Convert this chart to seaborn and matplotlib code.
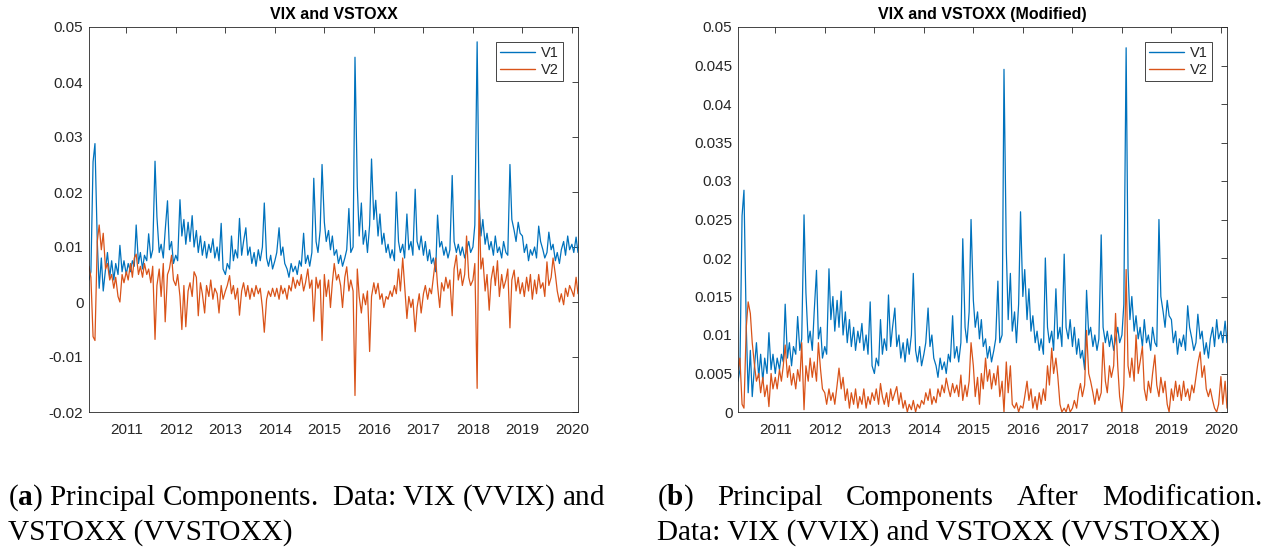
import numpy as np
import pandas as pd
import matplotlib
matplotlib.use("Agg")
import matplotlib.pyplot as plt
import seaborn as sns

# ---------------- data (semi-monthly readings, Apr 2010 - Feb 2020) ----------------
dates = pd.date_range("2010-04-01", "2020-02-15", freq="SMS")

v1 = [
    # 2010 (Apr-Dec)
    0.0040, 0.0055, 0.0255, 0.0288, 0.0110, 0.0025, 0.0080, 0.0020, 0.0060, 0.0090, 0.0045, 0.0075,
    0.0040, 0.0070, 0.0050, 0.0103, 0.0055, 0.0075,
    # 2011
    0.0050, 0.0070, 0.0055, 0.0075, 0.0065, 0.0140, 0.0070, 0.0090, 0.0060, 0.0085, 0.0075, 0.0124,
    0.0080, 0.0095, 0.0256, 0.0155, 0.0090, 0.0105, 0.0080, 0.0130, 0.0184, 0.0095, 0.0110, 0.0070,
    # 2012
    0.0085, 0.0075, 0.0186, 0.0120, 0.0150, 0.0105, 0.0145, 0.0110, 0.0157, 0.0100, 0.0130, 0.0090,
    0.0120, 0.0085, 0.0110, 0.0080, 0.0105, 0.0090, 0.0115, 0.0080, 0.0100, 0.0075, 0.0143, 0.0060,
    # 2013
    0.0050, 0.0070, 0.0060, 0.0120, 0.0075, 0.0095, 0.0080, 0.0152, 0.0085, 0.0110, 0.0135, 0.0085,
    0.0100, 0.0070, 0.0090, 0.0065, 0.0095, 0.0075, 0.0100, 0.0180, 0.0080, 0.0065, 0.0085, 0.0060,
    # 2014
    0.0075, 0.0090, 0.0135, 0.0085, 0.0100, 0.0070, 0.0060, 0.0045, 0.0070, 0.0055, 0.0065, 0.0050,
    0.0075, 0.0065, 0.0125, 0.0070, 0.0085, 0.0065, 0.0090, 0.0225, 0.0110, 0.0090, 0.0130, 0.0250,
    # 2015
    0.0145, 0.0110, 0.0130, 0.0095, 0.0120, 0.0085, 0.0095, 0.0070, 0.0085, 0.0065, 0.0080, 0.0095,
    0.0170, 0.0090, 0.0100, 0.0445, 0.0210, 0.0120, 0.0180, 0.0105, 0.0130, 0.0090, 0.0140, 0.0260,
    # 2016
    0.0150, 0.0185, 0.0120, 0.0160, 0.0105, 0.0125, 0.0090, 0.0105, 0.0080, 0.0095, 0.0075, 0.0200,
    0.0110, 0.0090, 0.0105, 0.0080, 0.0160, 0.0095, 0.0110, 0.0085, 0.0205, 0.0110, 0.0095, 0.0120,
    # 2017
    0.0085, 0.0110, 0.0075, 0.0095, 0.0070, 0.0080, 0.0055, 0.0158, 0.0100, 0.0110, 0.0085, 0.0100,
    0.0080, 0.0095, 0.0230, 0.0110, 0.0090, 0.0105, 0.0085, 0.0100, 0.0080, 0.0095, 0.0110, 0.0090,
    # 2018
    0.0100, 0.0140, 0.0473, 0.0185, 0.0120, 0.0150, 0.0105, 0.0125, 0.0095, 0.0110, 0.0085, 0.0120,
    0.0090, 0.0100, 0.0080, 0.0110, 0.0090, 0.0085, 0.0250, 0.0150, 0.0130, 0.0110, 0.0145, 0.0125,
    # 2019
    0.0120, 0.0090, 0.0105, 0.0075, 0.0095, 0.0085, 0.0100, 0.0080, 0.0138, 0.0110, 0.0095, 0.0080,
    0.0090, 0.0127, 0.0095, 0.0105, 0.0075, 0.0090, 0.0070, 0.0095, 0.0110, 0.0085, 0.0120, 0.0095,
    # 2020 (Jan-Feb)
    0.0105, 0.0090, 0.0118, 0.0090,
]

v2 = [
    # 2010
    0.0065, 0.0045, -0.0063, -0.0070, 0.0110, 0.0140, 0.0095, 0.0125, 0.0060, 0.0070, 0.0040, 0.0050,
    0.0025, 0.0045, 0.0010, 0.0000, 0.0050, 0.0035,
    # 2011
    0.0055, 0.0040, 0.0070, 0.0045, 0.0080, 0.0087, 0.0050, 0.0065, 0.0045, 0.0070, 0.0050, 0.0060,
    0.0035, 0.0065, -0.0068, 0.0030, 0.0060, 0.0010, 0.0070, -0.0036, 0.0050, 0.0060, 0.0085, 0.0040,
    # 2012
    0.0030, 0.0050, 0.0010, -0.0050, 0.0030, -0.0045, 0.0020, 0.0035, 0.0010, 0.0055, 0.0045, -0.0025,
    0.0035, 0.0015, -0.0020, 0.0030, 0.0010, 0.0040, 0.0005, 0.0025, 0.0015, -0.0020, 0.0030, 0.0005,
    # 2013
    0.0020, 0.0030, 0.0048, 0.0015, 0.0030, 0.0005, 0.0025, -0.0024, 0.0020, 0.0035, 0.0010, 0.0030,
    0.0005, 0.0025, 0.0010, 0.0030, 0.0015, 0.0025, -0.0010, -0.0055, 0.0005, 0.0020, 0.0010, 0.0025,
    # 2014
    0.0010, 0.0025, 0.0005, 0.0030, 0.0015, 0.0025, 0.0005, 0.0030, 0.0020, 0.0045, 0.0025, 0.0040,
    0.0030, 0.0050, 0.0020, 0.0035, 0.0060, 0.0025, 0.0040, -0.0035, 0.0045, 0.0025, 0.0040, -0.0070,
    # 2015
    0.0050, 0.0010, 0.0040, -0.0010, 0.0035, 0.0070, 0.0040, 0.0050, 0.0030, -0.0010, 0.0045, 0.0064,
    0.0020, 0.0040, 0.0020, -0.0170, 0.0060, 0.0010, -0.0020, 0.0015, -0.0005, 0.0020, -0.0090, 0.0010,
    # 2016
    0.0035, 0.0015, 0.0034, 0.0005, 0.0015, -0.0010, 0.0010, 0.0005, 0.0020, 0.0010, 0.0030, 0.0015,
    0.0060, 0.0020, 0.0080, 0.0030, -0.0030, 0.0010, -0.0010, 0.0005, -0.0054, -0.0010, 0.0015, -0.0020,
    # 2017
    0.0015, 0.0030, 0.0005, 0.0025, 0.0015, 0.0045, 0.0080, 0.0030, -0.0010, 0.0035, 0.0020, 0.0045,
    0.0025, 0.0040, -0.0025, 0.0060, 0.0085, 0.0040, 0.0060, 0.0030, 0.0050, 0.0120, 0.0045, 0.0030,
    # 2018
    0.0040, 0.0070, -0.0157, 0.0185, 0.0060, 0.0080, 0.0020, 0.0050, -0.0015, 0.0040, 0.0065, 0.0030,
    0.0075, 0.0010, 0.0050, 0.0025, 0.0040, 0.0060, -0.0047, 0.0040, 0.0058, 0.0020, 0.0045, 0.0015,
    # 2019
    0.0035, 0.0010, 0.0045, 0.0020, 0.0050, 0.0005, 0.0040, 0.0015, 0.0050, 0.0025, 0.0035, 0.0010,
    0.0073, 0.0030, 0.0045, 0.0080, 0.0050, 0.0020, 0.0000, 0.0015, -0.0005, 0.0025, 0.0010, 0.0030,
    # 2020
    0.0020, 0.0010, 0.0045, 0.0015,
]

v1_mod = list(v1)  # read as identical in the modified panel

v2_mod = [
    # 2010
    0.0055, 0.0070, 0.0010, 0.0005, 0.0110, 0.0143, 0.0128, 0.0090, 0.0060, 0.0040, 0.0050, 0.0025,
    0.0045, 0.0020, 0.0035, 0.0007, 0.0050, 0.0030,
    # 2011
    0.0045, 0.0030, 0.0055, 0.0040, 0.0060, 0.0087, 0.0045, 0.0060, 0.0035, 0.0050, 0.0030, 0.0055,
    0.0040, 0.0090, 0.0003, 0.0060, 0.0040, 0.0070, 0.0045, 0.0065, 0.0040, 0.0090, 0.0055, 0.0030,
    # 2012
    0.0025, 0.0010, 0.0030, 0.0015, 0.0025, 0.0010, 0.0035, 0.0057, 0.0030, 0.0045, 0.0015, 0.0030,
    0.0005, 0.0025, 0.0010, 0.0030, 0.0005, 0.0020, 0.0010, 0.0030, 0.0005, 0.0020, 0.0010, 0.0025,
    # 2013
    0.0015, 0.0030, 0.0010, 0.0037, 0.0020, 0.0010, 0.0025, 0.0007, 0.0030, 0.0015, 0.0025, 0.0033,
    0.0010, 0.0025, 0.0005, 0.0015, 0.0000, 0.0010, 0.0003, 0.0015, 0.0000, 0.0010, 0.0005, 0.0015,
    # 2014
    0.0010, 0.0025, 0.0015, 0.0030, 0.0010, 0.0020, 0.0012, 0.0030, 0.0020, 0.0035, 0.0025, 0.0044,
    0.0030, 0.0020, 0.0037, 0.0025, 0.0035, 0.0020, 0.0048, 0.0015, 0.0035, 0.0020, 0.0040, 0.0090,
    # 2015
    0.0060, 0.0020, 0.0045, 0.0010, 0.0050, 0.0030, 0.0070, 0.0040, 0.0055, 0.0030, 0.0050, 0.0035,
    0.0060, 0.0020, 0.0040, 0.0000, 0.0065, 0.0025, 0.0060, 0.0010, 0.0005, 0.0012, 0.0000, 0.0008,
    # 2016
    0.0005, 0.0020, 0.0040, 0.0015, 0.0030, 0.0005, 0.0020, 0.0003, 0.0025, 0.0010, 0.0030, 0.0015,
    0.0060, 0.0035, 0.0083, 0.0050, 0.0070, 0.0046, 0.0010, 0.0000, 0.0005, 0.0000, 0.0010, 0.0000,
    # 2017
    0.0005, 0.0015, 0.0005, 0.0025, 0.0037, 0.0020, 0.0035, 0.0106, 0.0050, 0.0040, 0.0025, 0.0010,
    0.0030, 0.0015, 0.0025, 0.0090, 0.0040, 0.0025, 0.0060, 0.0045, 0.0060, 0.0128, 0.0060, 0.0020,
    # 2018
    0.0000, 0.0035, 0.0185, 0.0060, 0.0045, 0.0070, 0.0040, 0.0100, 0.0050, 0.0065, 0.0085, 0.0030,
    0.0015, 0.0040, 0.0025, 0.0050, 0.0074, 0.0035, 0.0020, 0.0045, 0.0025, 0.0040, 0.0010, 0.0000,
    # 2019
    0.0030, 0.0015, 0.0040, 0.0020, 0.0035, 0.0015, 0.0040, 0.0020, 0.0030, 0.0015, 0.0035, 0.0025,
    0.0045, 0.0063, 0.0078, 0.0045, 0.0060, 0.0030, 0.0020, 0.0030, 0.0015, 0.0005, 0.0000, 0.0010,
    # 2020
    0.0046, 0.0010, 0.0040, 0.0005,
]

series_names = ["V1", "V2"]
titles = ["VIX and VSTOXX", "VIX and VSTOXX (Modified)"]
year_ticks = [2011, 2012, 2013, 2014, 2015, 2016, 2017, 2018, 2019, 2020]
yticks_a = [-0.02, -0.01, 0, 0.01, 0.02, 0.03, 0.04, 0.05]
ylabels_a = ["-0.02", "-0.01", "0", "0.01", "0.02", "0.03", "0.04", "0.05"]
yticks_b = [0, 0.005, 0.01, 0.015, 0.02, 0.025, 0.03, 0.035, 0.04, 0.045, 0.05]
ylabels_b = ["0", "0.005", "0.01", "0.015", "0.02", "0.025", "0.03", "0.035", "0.04", "0.045", "0.05"]
caption_a = ["($\\mathbf{a}$) Principal Components.  Data: VIX (VVIX) and", "VSTOXX (VVSTOXX)"]
caption_b_words = ["($\\mathbf{b}$)", "Principal", "Components", "After", "Modification."]
caption_b_line2 = "Data: VIX (VVIX) and VSTOXX (VVSTOXX)"

# ---------------- style ----------------
sns.set_theme(style="white")
plt.rcParams["font.family"] = ["Liberation Sans", "DejaVu Sans"]
plt.rcParams["mathtext.fontset"] = "custom"
plt.rcParams["mathtext.rm"] = "Liberation Serif"
plt.rcParams["mathtext.bf"] = "Liberation Serif:bold"
plt.rcParams["mathtext.it"] = "Liberation Serif:italic"

palette = {"V1": "#0072BD", "V2": "#D95319"}
dark = "#262626"

W, H = 1270, 550
fig = plt.figure(figsize=(W / 100, H / 100), dpi=100)
ax_a = fig.add_axes([89 / W, 1 - 412 / H, 489 / W, 385 / H])
ax_b = fig.add_axes([738 / W, 1 - 412 / H, 489 / W, 385 / H])


def long_frame(a, b):
    n = len(dates)
    assert len(a) == n and len(b) == n, (len(a), len(b), n)
    return pd.DataFrame({
        "date": np.concatenate([dates.values, dates.values]),
        "value": list(a) + list(b),
        "series": [series_names[0]] * n + [series_names[1]] * n,
    })


panels = [
    (ax_a, long_frame(v1, v2), yticks_a, ylabels_a, titles[0]),
    (ax_b, long_frame(v1_mod, v2_mod), yticks_b, ylabels_b, titles[1]),
]

for ax, df, yt, yl, title in panels:
    sns.lineplot(data=df, x="date", y="value", hue="series", hue_order=series_names,
                 palette=palette, estimator=None, linewidth=0.9, ax=ax, legend=True)
    ax.set_xlim(dates[0], dates[-1])
    ax.set_ylim(yt[0], yt[-1])
    ax.set_xticks(pd.to_datetime([f"{y}-01-01" for y in year_ticks]))
    ax.set_xticklabels([str(y) for y in year_ticks])
    ax.set_yticks(yt)
    ax.set_yticklabels(yl)
    ax.set_xlabel("")
    ax.set_ylabel("")
    ax.tick_params(axis="both", direction="in", length=4, width=0.6, top=True, right=True,
                   color=dark, labelcolor=dark, labelsize=11)
    ax.tick_params(axis="x", pad=8)
    ax.tick_params(axis="y", pad=4)
    for s in ax.spines.values():
        s.set_visible(True)
        s.set_color(dark)
        s.set_linewidth(0.6)
    ax.set_title(title, fontsize=11.5, fontweight="bold", color="black", pad=6)
    handles, labels = ax.get_legend_handles_labels()
    leg = ax.legend(handles, labels, loc="upper right", fontsize=10.5, frameon=True,
                    fancybox=False, framealpha=1, edgecolor=dark, borderaxespad=1.0,
                    handlelength=2.4, handletextpad=0.4, labelspacing=0.2, borderpad=0.3)
    leg.get_frame().set_linewidth(0.6)
    for line in leg.get_lines():
        line.set_linewidth(1.0)

# ---------------- captions ----------------
serif = "Liberation Serif"
fig.canvas.draw()
renderer = fig.canvas.get_renderer()


def text_width(s, size):
    t = fig.text(0, 0, s, fontsize=size, family=serif)
    w = t.get_window_extent(renderer).width
    t.remove()
    return w


size = 20 * 598 / text_width(caption_a[0], 20)
y1 = 1 - 505 / H
y2 = 1 - 540 / H

fig.text(8 / W, y1, caption_a[0], fontsize=size, family=serif, va="baseline", color="black")
fig.text(8 / W, y2, caption_a[1], fontsize=size, family=serif, va="baseline", color="black")

x0, x1 = 657, 1262
widths = [text_width(w, size) for w in caption_b_words]
gap = (x1 - x0 - sum(widths)) / (len(caption_b_words) - 1)
x = x0
for w, wd in zip(caption_b_words, widths):
    fig.text(x / W, y1, w, fontsize=size, family=serif, va="baseline", color="black")
    x += wd + gap
fig.text(x0 / W, y2, caption_b_line2, fontsize=size, family=serif, va="baseline", color="black")

fig.savefig("out.png", dpi=100, facecolor="white")
